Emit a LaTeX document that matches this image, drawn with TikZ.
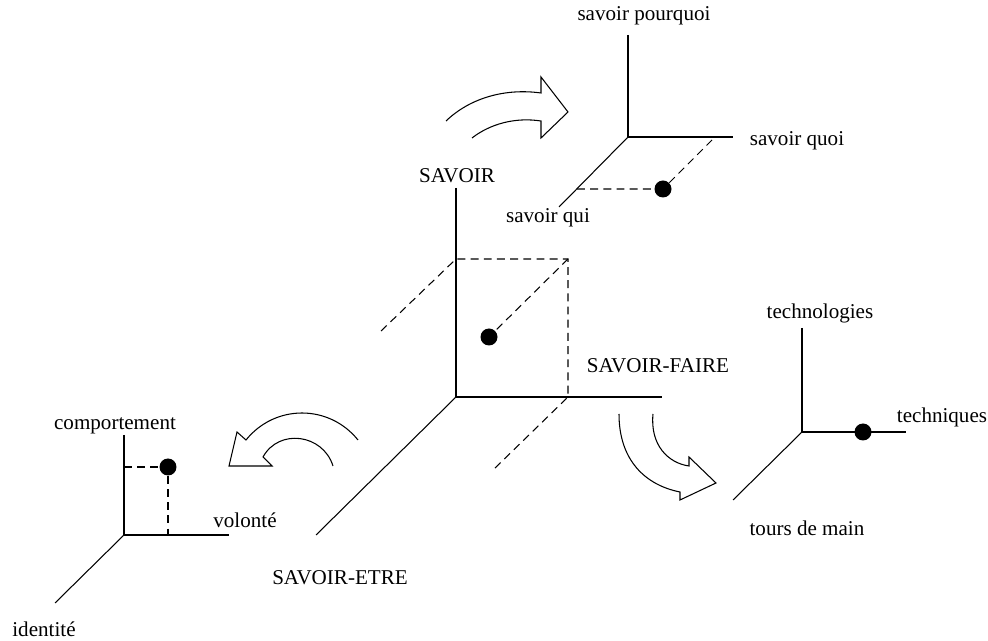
\documentclass[tikz,border=0pt]{standalone}
\usepackage{fontspec}
\setmainfont{Liberation Serif}
\usetikzlibrary{positioning}

\tikzset{
  axe/.style={line width=0.6pt},
  pointille/.style={line width=0.6pt, dash pattern=on 4.5pt off 3pt},
  point/.style={circle, fill=black, inner sep=0pt, minimum size=0.34cm},
  etiquette/.style={inner sep=0pt, font=\fontsize{12}{14}\selectfont},
  fleche/.style={line width=0.6pt, line join=miter}
}

\begin{document}
\begin{tikzpicture}[x=0.02cm, y=-0.02cm]
        \useasboundingbox (0,0) rectangle (988,641);

        % Repere principal
        \coordinate (O) at (456,397);
        \coordinate (Osavoir) at (456,188);
        \coordinate (Ofaire) at (662,397);
        \coordinate (Oetre) at (316,535);
        \draw[axe] (Osavoir) -- (O) -- (Ofaire);
        \draw[axe] (O) -- (Oetre);

        % Boite en pointilles
        \coordinate (Bh) at (456,259);
        \coordinate (Bc) at (568,259);
        \coordinate (Bd) at (568,397);
        \coordinate (Bg) at (381,331);
        \coordinate (Bb) at (494,469);
        \node[point] (P) at (489,337) {};
        \draw[pointille] (Bg) -- (Bh) -- (Bc) -- (Bd) -- (Bb);
        \draw[pointille] (Bc) -- (P);

        % Labels du repere principal
        \node[etiquette] (savoir) at (457,176) {SAVOIR};
        \node[etiquette] (faire) at (658,366) {SAVOIR-FAIRE};
        \node[etiquette] (etre) at (340,578) {SAVOIR-ETRE};

        % Repere savoir
        \coordinate (S) at (628,137);
        \coordinate (Sh) at (628,35);
        \coordinate (Sd) at (733,137);
        \coordinate (Sb) at (559,207);
        \draw[axe] (Sh) -- (S) -- (Sd);
        \draw[axe] (S) -- (Sb);
        \coordinate (Sq) at (577,189);
        \coordinate (Sr) at (715,137);
        \node[point] (PS) at (663,189) {};
        \draw[pointille] (Sq) -- (PS) -- (Sr);
        \node[etiquette] (pourquoi) at (644,16) {savoir pourquoi};
        \node[etiquette] (quoi) at (797,141) {savoir quoi};
        \node[etiquette] (qui) at (548,218) {savoir qui};

        % Repere savoir-faire
        \coordinate (F) at (802,432);
        \coordinate (Fh) at (802,328);
        \coordinate (Fd) at (906,432);
        \coordinate (Fb) at (733,500);
        \draw[axe] (Fh) -- (F) -- (Fd);
        \draw[axe] (F) -- (Fb);
        \node[point] (PF) at (863,432) {};
        \node[etiquette] (techno) at (820,313) {technologies};
        \node[etiquette] (techn) at (942,417) {techniques};
        \node[etiquette] (tours) at (807,528) {tours de main};

        % Repere savoir-etre
        \coordinate (E) at (124,535);
        \coordinate (Eh) at (124,435);
        \coordinate (Ed) at (229,535);
        \coordinate (Eb) at (55,603);
        \draw[axe] (Eh) -- (E) -- (Ed);
        \draw[axe] (E) -- (Eb);
        \coordinate (Ec) at (124,467);
        \coordinate (Ev) at (168,535);
        \node[point] (PE) at (168,467) {};
        \draw[pointille] (Ec) -- (PE) -- (Ev);
        \node[etiquette] (comport) at (115,426) {comportement};
        \node[etiquette] (volonte) at (245,520) {volonté};
        \node[etiquette] (identite) at (44,629) {identité};

        % Fleches courbes
        \draw[fleche] (446,121) .. controls (470,98) and (505,88) .. (541,93)
              -- (541,77) -- (568,112) -- (541,138) -- (541,121)
              .. controls (515,117) and (490,124) .. (472,138);
        \draw[fleche] (358,440) .. controls (329,404) and (275,404) .. (246,440)
              -- (237,432) -- (229,466) -- (272,466) -- (263,457)
              .. controls (279,428) and (323,434) .. (333,466);
        \draw[fleche] (619,414) .. controls (619,460) and (645,485) .. (680,492)
              -- (680,500) -- (716,483) -- (689,457) -- (689,466)
              .. controls (668,463) and (650,445) .. (653,414);
    \end{tikzpicture}
\end{document}
